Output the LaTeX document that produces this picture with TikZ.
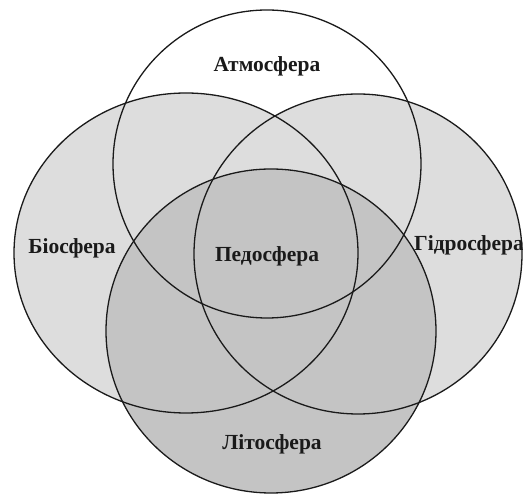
\documentclass[tikz,border=0pt]{standalone}
\usepackage{fontspec}
\setmainfont{Liberation Serif}
\usetikzlibrary{positioning}
\definecolor{SphereInk}{HTML}{1A1A1A}
\definecolor{SphereLight}{HTML}{DDDDDD}
\definecolor{SphereDark}{HTML}{C4C4C4}
\tikzset{
  every node/.style={font=\bfseries\fontsize{21.5}{24}\selectfont, text=SphereInk},
  sphere/.style={draw=SphereInk, line width=1.3pt},
}
\begin{document}
\begin{tikzpicture}[x=1pt,y=1pt]
  \useasboundingbox (0,0) rectangle (523,495);
  % Fills
  \fill[white] (267,331) circle (154);
  \fill[SphereLight] (186,242) ellipse [x radius=172, y radius=160];
  \fill[SphereLight] (358,241) ellipse [x radius=164, y radius=160];
  \fill[SphereDark] (271,164) ellipse [x radius=165, y radius=162];
  % Outlines
  \draw[sphere] (267,331) circle (154);
  \draw[sphere] (186,242) ellipse [x radius=172, y radius=160];
  \draw[sphere] (358,241) ellipse [x radius=164, y radius=160];
  \draw[sphere] (271,164) ellipse [x radius=165, y radius=162];
  % Labels
  \node (atmo) at (267,429) {Атмосфера};
  \node (bio) at (72,247) {Біосфера};
  \node (pedo) at (267,239) {Педосфера};
  \node (hydro) at (469,250) {Гідросфера};
  \node (litho) at (272,51) {Літосфера};
\end{tikzpicture}
\end{document}
